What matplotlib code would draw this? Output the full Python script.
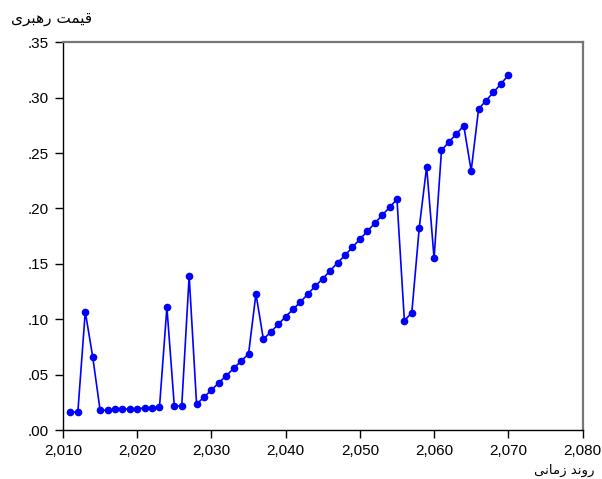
import matplotlib
matplotlib.use("Agg")
import matplotlib.pyplot as plt
from matplotlib.ticker import FuncFormatter, MultipleLocator

years = list(range(2011, 2071))
price = [0.0162, 0.0162, 0.1068, 0.0662, 0.0178, 0.0178, 0.0187, 0.0187, 0.0190, 0.0193,
         0.0199, 0.0202, 0.0205, 0.1108, 0.0214, 0.0217, 0.1390, 0.0232, 0.0298, 0.0360,
         0.0427, 0.0490, 0.0557, 0.0623, 0.0686, 0.1230, 0.0819, 0.0885, 0.0954, 0.1023,
         0.1090, 0.1156, 0.1228, 0.1300, 0.1366, 0.1438, 0.1510, 0.1577, 0.1650, 0.1722,
         0.1794, 0.1866, 0.1938, 0.2010, 0.2083, 0.0987, 0.1059, 0.1824, 0.2377, 0.1550,
         0.2525, 0.2600, 0.2672, 0.2747, 0.2341, 0.2898, 0.2973, 0.3049, 0.3124, 0.3202]

y_title = "قیمت رهبری"
x_title = "روند زمانی"

# minimal Arabic-script shaping (presentation forms) + visual ordering
FORMS = {
    'ق': (0xFED5, 0xFED6, 0xFED7, 0xFED8),
    'ی': (0xFBFC, 0xFBFD, 0xFBFE, 0xFBFF),
    'م': (0xFEE1, 0xFEE2, 0xFEE3, 0xFEE4),
    'ت': (0xFE95, 0xFE96, 0xFE97, 0xFE98),
    'ه': (0xFEE9, 0xFEEA, 0xFEEB, 0xFEEC),
    'ب': (0xFE8F, 0xFE90, 0xFE91, 0xFE92),
    'ن': (0xFEE5, 0xFEE6, 0xFEE7, 0xFEE8),
    'ر': (0xFEAD, 0xFEAE),
    'و': (0xFEED, 0xFEEE),
    'د': (0xFEA9, 0xFEAA),
    'ز': (0xFEAF, 0xFEB0),
    'ا': (0xFE8D, 0xFE8E),
}


def shape(s):
    out = []
    for i, c in enumerate(s):
        if c not in FORMS:
            out.append(c)
            continue
        prev = s[i - 1] if i > 0 else ' '
        nxt = s[i + 1] if i + 1 < len(s) else ' '
        jp = prev in FORMS and len(FORMS[prev]) == 4
        jn = nxt in FORMS and len(FORMS[c]) == 4
        f = FORMS[c]
        if jp and jn:
            code = f[3]
        elif jp:
            code = f[1]
        elif jn:
            code = f[2]
        else:
            code = f[0]
        out.append(chr(code))
    return ''.join(reversed(out))


plt.rcParams['font.family'] = ['Liberation Sans', 'DejaVu Sans']

fig = plt.figure(figsize=(6.02, 4.79), dpi=100)
ax = fig.add_axes([63 / 602, 1 - 430 / 479, (582.5 - 63) / 602, (430 - 42.3) / 479])

ax.plot(years, price, color='#0000FF', lw=1.2, marker='o', ms=4.5,
        markerfacecolor='#0000FF', markeredgecolor='#0000FF')

ax.set_xlim(2010, 2080)
ax.set_ylim(0, 0.35)
ax.xaxis.set_major_locator(MultipleLocator(10))
ax.yaxis.set_major_locator(MultipleLocator(0.05))
ax.xaxis.set_major_formatter(FuncFormatter(lambda v, p: f"{int(round(v)):,}"))
ax.yaxis.set_major_formatter(FuncFormatter(lambda v, p: f"{v:.2f}".lstrip('0')))
ax.tick_params(axis='both', direction='out', length=6, width=1, labelsize=11,
               pad=4, colors='black')
ax.tick_params(top=False, right=False)

ax.spines['left'].set_color('black')
ax.spines['bottom'].set_color('black')
ax.spines['left'].set_linewidth(1)
ax.spines['bottom'].set_linewidth(1)
for s in ('top', 'right'):
    ax.spines[s].set_color('#777777')
    ax.spines[s].set_linewidth(1.6)

fig.text(52 / 602, 1 - 18 / 479, shape(y_title), ha='center', va='center',
         fontsize=11, family=['DejaVu Sans'])
fig.text(564 / 602, 1 - 470 / 479, shape(x_title), ha='center', va='center',
         fontsize=9.5, family=['DejaVu Sans'])

fig.savefig('out.png', dpi=100)
